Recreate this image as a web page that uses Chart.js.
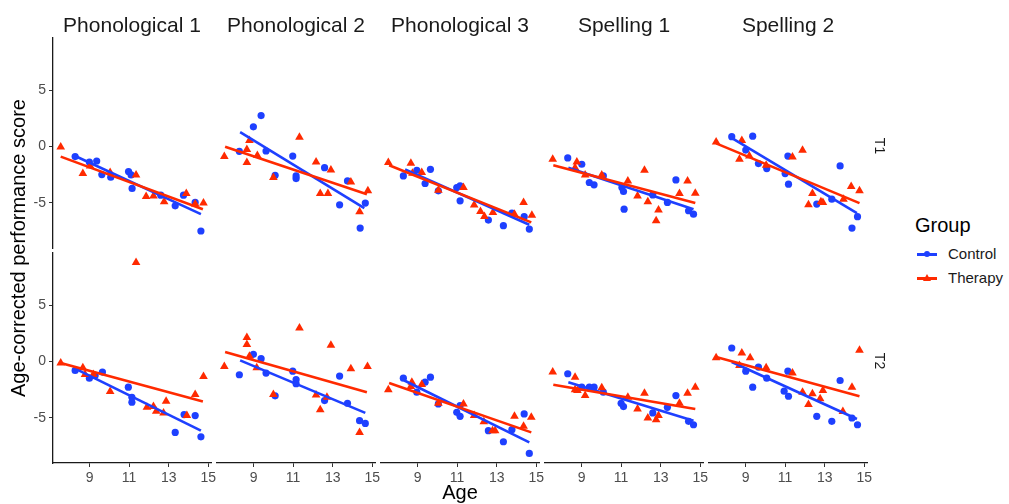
<!DOCTYPE html>
<html>
<head>
<meta charset="utf-8">
<script src="https://cdn.jsdelivr.net/npm/chart.js@4.4.1/dist/chart.umd.min.js"></script>
<style>
  body { margin: 0; background: #fff; font-family: "Liberation Sans", Arial, sans-serif; }
  #wrap { position: relative; width: 1009px; height: 504px; overflow: hidden; }
  #wrap canvas { position: absolute; }
  .strip { position: absolute; font-size: 21px; color: #1a1a1a; text-align: center; line-height: 26px; white-space: nowrap; }
  .rstrip { position: absolute; font-size: 14px; color: #1a1a1a; width: 30px; height: 18px; line-height: 18px; text-align: center; transform: rotate(90deg); }
  .title { position: absolute; font-size: 20px; color: #000; white-space: nowrap; line-height: 24px; text-align: center; }
  #legend { position: absolute; left: 915px; top: 212px; }
  #legend .lt { font-size: 20px; color: #000; line-height: 26px; margin-bottom: 4px; }
  #legend .row { position: relative; height: 24px; line-height: 24px; font-size: 15px; color: #1a1a1a; padding-left: 33px; }
  .kline { position: absolute; left: 2px; top: 11px; width: 20px; height: 2.5px; }
  .kdot { position: absolute; left: 9px; top: 9px; width: 6px; height: 6px; border-radius: 50%; }
  .ktri { position: absolute; left: 8px; top: 8px; width: 0; height: 0; border-left: 4px solid transparent; border-right: 4px solid transparent; border-bottom: 7px solid; }
</style>
</head>
<body>
<div id="wrap"></div>
<script>
// facets and ticks
const tasks = ['Phonological 1', 'Phonological 2', 'Phonological 3', 'Spelling 1', 'Spelling 2'];
const times = ['T1', 'T2'];
const groups = ['Control', 'Therapy'];
const xTicks = [9, 11, 13, 15];
const yTicks = [-5, 0, 5];
const xRange = [7.15, 15.14];
const yRange = [-9.03, 9.63];

// [age, score] pairs, one list per task
const ctrlT1 = [
  [[8.27,-0.91],[8.99,-1.39],[9.36,-1.30],[9.62,-2.51],[10.07,-2.74],[10.97,-2.24],[11.1,-2.54],[11.15,-3.74],[12.6,-4.34],[13.33,-5.28],[13.75,-4.34],[14.34,-4.98],[14.63,-7.52]],
  [[8.28,-0.44],[8.99,1.74],[9.38,2.74],[9.63,-0.41],[10.09,-2.57],[10.98,-0.86],[11.15,-2.63],[11.15,-2.86],[12.59,-1.89],[13.35,-5.19],[13.75,-3.07],[14.39,-7.26],[14.65,-5.04]],
  [[8.28,-2.63],[8.96,-2.12],[9.38,-3.30],[9.65,-2.04],[10.05,-3.95],[10.98,-3.66],[11.15,-3.51],[11.15,-4.84],[12.58,-6.55],[13.34,-7.05],[13.77,-5.93],[14.39,-6.25],[14.65,-7.35]],
  [[8.3,-1.03],[9.01,-1.59],[9.39,-3.21],[9.63,-3.42],[10.1,-2.63],[11.04,-3.66],[11.12,-4.01],[11.15,-5.58],[12.6,-4.31],[13.34,-4.98],[13.77,-2.98],[14.41,-5.72],[14.66,-6.02]],
  [[8.3,0.86],[9.01,-0.33],[9.36,0.91],[9.65,-1.53],[10.07,-1.97],[11.0,-2.42],[11.14,-0.86],[11.17,-3.36],[12.6,-5.13],[13.36,-4.69],[13.78,-1.74],[14.38,-7.26],[14.66,-6.25]]
];
const thrT1 = [
  [[7.54,-0.06],[8.66,-2.42],[9.03,-1.74],[10.04,-2.33],[11.35,-2.54],[11.86,-4.45],[12.23,-4.40],[12.77,-4.93],[13.89,-4.19],[14.34,-5.13],[14.76,-5.04]],
  [[7.52,-0.91],[8.66,-0.27],[8.79,0.53],[8.66,-1.44],[9.19,-0.80],[10.0,-2.77],[11.32,0.82],[12.16,-1.39],[12.37,-4.19],[12.76,-4.19],[12.91,-2.10],[13.92,-3.16],[14.36,-5.81],[14.78,-3.95]],
  [[7.52,-1.44],[8.66,-1.50],[8.74,-2.39],[9.21,-2.33],[10.05,-3.89],[11.32,-3.66],[11.86,-5.22],[12.18,-5.78],[12.38,-6.22],[12.81,-5.87],[13.9,-6.02],[14.36,-4.98],[14.78,-6.11]],
  [[7.54,-1.15],[8.76,-1.39],[8.67,-1.89],[9.18,-2.54],[10.02,-2.54],[11.34,-3.07],[11.83,-4.40],[12.18,-2.12],[12.35,-4.93],[12.89,-5.66],[12.77,-6.61],[13.95,-4.19],[14.36,-3.07],[14.75,-4.16]],
  [[7.51,0.38],[8.69,-1.15],[8.81,0.53],[9.19,-0.86],[10.04,-1.68],[11.37,-0.95],[11.88,-0.35],[12.18,-5.19],[12.38,-4.19],[12.81,-4.93],[12.91,-4.98],[13.95,-4.69],[14.34,-3.57],[14.76,-3.95]]
];
const ctrlT2 = [
  [[8.27,-0.80],[8.99,-1.49],[9.28,-1.25],[9.65,-0.95],[10.96,-2.29],[11.14,-3.19],[11.14,-3.63],[13.33,-6.31],[13.78,-4.73],[14.34,-4.82],[14.63,-6.70]],
  [[8.28,-1.19],[8.99,0.63],[9.38,0.24],[9.63,-1.04],[10.09,-3.06],[10.98,-0.87],[11.15,-1.63],[11.15,-1.99],[12.59,-3.48],[13.35,-1.31],[13.75,-3.72],[14.36,-5.27],[14.65,-5.51]],
  [[8.28,-1.49],[8.96,-2.74],[9.38,-1.85],[9.65,-1.40],[10.05,-3.78],[10.98,-4.53],[11.15,-4.88],[11.15,-3.93],[12.58,-6.16],[13.34,-7.14],[13.77,-6.07],[14.39,-4.67],[14.65,-8.18]],
  [[8.3,-1.10],[9.01,-2.29],[9.39,-2.29],[9.63,-2.29],[10.1,-2.74],[11.0,-3.72],[11.12,-4.02],[12.6,-4.58],[13.34,-4.08],[13.77,-3.04],[14.41,-5.33],[14.66,-5.63]],
  [[8.3,1.19],[9.01,-0.87],[9.36,-2.29],[9.65,-0.51],[10.07,-1.49],[10.95,-2.65],[11.14,-0.87],[11.17,-3.10],[12.6,-4.88],[13.36,-5.33],[13.78,-1.70],[14.38,-5.03],[14.66,-5.63]]
];
const thrT2 = [
  [[7.54,-0.15],[8.66,-0.57],[8.77,-1.16],[9.19,-1.16],[10.04,-2.68],[11.35,8.78],[11.9,-4.08],[12.23,-4.02],[12.37,-4.43],[12.74,-4.58],[12.87,-3.54],[13.92,-4.82],[14.34,-2.95],[14.76,-1.34]],
  [[7.52,-0.45],[8.66,2.12],[8.66,1.49],[8.79,0.45],[9.16,-0.57],[10.0,-2.95],[11.32,2.97],[12.16,-2.98],[12.37,-4.29],[12.71,-3.19],[12.91,1.43],[13.92,-0.65],[14.36,-6.31],[14.76,-0.45]],
  [[7.52,-2.53],[8.71,-1.85],[8.66,-2.23],[9.21,-2.05],[10.05,-3.72],[11.32,-3.78],[11.86,-4.82],[12.35,-5.36],[12.79,-6.16],[12.92,-6.16],[13.9,-4.88],[14.36,-5.77],[14.75,-4.97]],
  [[7.54,-0.95],[8.67,-1.40],[8.67,-2.53],[8.79,-2.59],[9.18,-3.04],[10.02,-2.35],[11.34,-3.19],[11.83,-4.23],[12.18,-2.83],[12.35,-5.03],[12.89,-4.82],[12.77,-5.18],[13.95,-3.72],[14.36,-2.83],[14.75,-2.29]],
  [[7.51,0.33],[8.69,-0.36],[8.81,0.74],[9.23,0.33],[10.04,-0.57],[11.37,-1.04],[11.88,-2.74],[12.18,-3.84],[12.38,-2.88],[12.77,-3.33],[12.91,-2.59],[13.92,-4.46],[14.38,-2.29],[14.76,0.98]]
];

// linear fits per task: [age start, score start, age end, score end]
const ctrlFitT1 = [[8.27,-0.86,14.63,-6.02],[8.32,1.27,14.6,-5.49],[8.37,-2.04,14.65,-6.96],[8.33,-1.89,14.66,-5.58],[8.27,0.77,14.63,-5.93]];
const thrFitT1 = [[7.54,-0.91,14.73,-5.58],[7.56,-0.03,14.73,-4.25],[7.56,-1.68,14.75,-6.75],[7.57,-1.68,14.75,-5.04],[7.51,0.27,14.76,-5.04]];
const ctrlFitT2 = [[8.27,-0.65,14.63,-6.16],[8.32,0.09,14.65,-4.58],[8.33,-1.70,14.65,-7.20],[8.33,-1.85,14.66,-5.27],[8.3,-0.06,14.63,-5.12]];
const thrFitT2 = [[7.54,-0.15,14.73,-3.57],[7.56,0.83,14.73,-2.74],[7.56,-1.93,14.75,-6.31],[7.57,-2.08,14.75,-4.23],[7.51,0.38,14.76,-3.10]];

const BLUE = '#1e40ff';
const RED = '#ff2a00';

Chart.defaults.font.family = "'Liberation Sans', Arial, sans-serif";

// panel geometry
const panelW = 158, panelH = 210;
const colLeft = c => 53 + 164 * c;
const rowTop = [38, 252.5];
const PAD = 16, Y_AXIS_W = 30, X_AXIS_H = 34;

const wrap = document.getElementById('wrap');

function addText(cls, text, style) {
  const d = document.createElement('div');
  d.className = cls;
  d.textContent = text;
  Object.assign(d.style, style);
  wrap.appendChild(d);
  return d;
}

const toXY = pts => pts.map(p => ({ x: p[0], y: p[1] }));
const fitXY = f => [{ x: f[0], y: f[1] }, { x: f[2], y: f[3] }];

function axisOpts(show, range, ticks, isX) {
  return {
    type: 'linear',
    display: show,
    min: range[0],
    max: range[1],
    afterBuildTicks: s => { s.ticks = ticks.map(v => ({ value: v })); },
    // fixed axis band so every panel keeps the same plot area
    afterFit: s => {
      if (!show) return;
      if (isX) s.height = X_AXIS_H; else s.width = Y_AXIS_W;
    },
    grid: { display: true, drawOnChartArea: false, drawTicks: true, tickLength: 4, color: '#333333', lineWidth: 1 },
    border: { display: true, color: '#1a1a1a', width: 1.3 },
    ticks: { color: '#4d4d4d', font: { size: 14 }, padding: 3, maxRotation: 0, callback: v => String(v) }
  };
}

function drawPanel(r, c) {
  const showY = c === 0, showX = r === 1;
  const ctrl = r === 0 ? ctrlT1[c] : ctrlT2[c];
  const thr = r === 0 ? thrT1[c] : thrT2[c];
  const ctrlFit = r === 0 ? ctrlFitT1[c] : ctrlFitT2[c];
  const thrFit = r === 0 ? thrFitT1[c] : thrFitT2[c];

  const cv = document.createElement('canvas');
  const w = panelW + 2 * PAD + (showY ? Y_AXIS_W : 0);
  const h = panelH + 2 * PAD + (showX ? X_AXIS_H : 0);
  cv.width = w; cv.height = h;
  cv.style.left = (colLeft(c) - PAD - (showY ? Y_AXIS_W : 0)) + 'px';
  cv.style.top = (rowTop[r] - PAD) + 'px';
  wrap.appendChild(cv);

  new Chart(cv, {
    type: 'scatter',
    data: {
      datasets: [
        { label: groups[1] + ' fit', data: fitXY(thrFit), showLine: true, borderColor: RED, borderWidth: 2.6, pointRadius: 0, order: 0, clip: false },
        { label: groups[0] + ' fit', data: fitXY(ctrlFit), showLine: true, borderColor: BLUE, borderWidth: 2.6, pointRadius: 0, order: 1, clip: false },
        { label: groups[1], data: toXY(thr), pointStyle: 'triangle', pointRadius: 5, backgroundColor: RED, borderWidth: 0, order: 2, clip: false },
        { label: groups[0], data: toXY(ctrl), pointStyle: 'circle', pointRadius: 3.6, backgroundColor: BLUE, borderWidth: 0, order: 3, clip: false }
      ]
    },
    options: {
      responsive: false,
      animation: false,
      events: [],
      layout: { padding: PAD },
      plugins: { legend: { display: false }, tooltip: { enabled: false } },
      scales: {
        x: axisOpts(showX, xRange, xTicks, true),
        y: axisOpts(showY, yRange, yTicks, false)
      }
    }
  });
}

for (let r = 0; r < times.length; r++) {
  for (let c = 0; c < tasks.length; c++) drawPanel(r, c);
}

// facet strips
tasks.forEach((t, c) => addText('strip', t, { left: colLeft(c) + 'px', top: '12px', width: panelW + 'px' }));
times.forEach((t, r) => addText('rstrip', t, { left: (colLeft(4) + panelW + 13 - 15) + 'px', top: (rowTop[r] + panelH / 2 - 6) + 'px' }));

// axis titles
addText('title', 'Age', { left: (colLeft(0) + 2 * 164) + 'px', width: panelW + 'px', top: '480px' });
addText('title', 'Age-corrected performance score', { left: (18 - 170) + 'px', width: '340px', top: (248 - 12) + 'px', transform: 'rotate(-90deg)' });

// legend
const lg = document.createElement('div');
lg.id = 'legend';
lg.innerHTML = '<div class="lt">Group</div>' +
  '<div class="row"><span class="kline" style="background:' + BLUE + '"></span><span class="kdot" style="background:' + BLUE + '"></span>' + groups[0] + '</div>' +
  '<div class="row"><span class="kline" style="background:' + RED + '"></span><span class="ktri" style="border-bottom-color:' + RED + '"></span>' + groups[1] + '</div>';
wrap.appendChild(lg);
</script>
</body>
</html>
